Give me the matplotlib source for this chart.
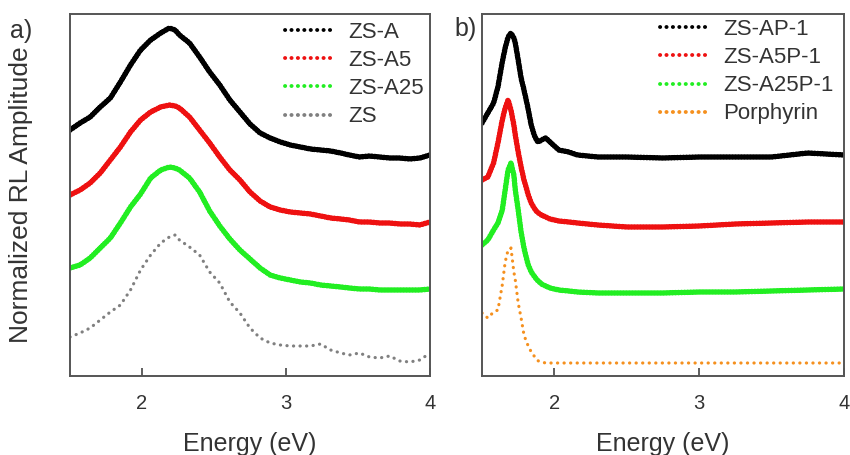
import matplotlib
matplotlib.use("Agg")
import matplotlib.pyplot as plt
from matplotlib.lines import Line2D

plt.rcParams['font.family'] = ['Liberation Sans', 'DejaVu Sans']

TEXT = '#333333'

# ---------------- panel a: radioluminescence of the scintillator films ----------------
energy_a = [1.50, 1.57, 1.64, 1.71, 1.78, 1.85, 1.92, 1.99, 2.06, 2.13, 2.19, 2.23, 2.26,
            2.33, 2.40, 2.47, 2.54, 2.61, 2.68, 2.75, 2.82, 2.89, 2.96, 3.03, 3.10, 3.17,
            3.24, 3.31, 3.38, 3.44, 3.51, 3.58, 3.65, 3.72, 3.79, 3.86, 3.93, 4.00]

zs_a = [2.46, 2.53, 2.59, 2.69, 2.78, 2.94, 3.11, 3.26, 3.36, 3.43, 3.48, 3.46, 3.41,
        3.33, 3.19, 3.04, 2.91, 2.76, 2.64, 2.52, 2.43, 2.38, 2.34, 2.31, 2.29, 2.27,
        2.26, 2.25, 2.23, 2.21, 2.19, 2.20, 2.19, 2.18, 2.18, 2.17, 2.18, 2.21]

zs_a5 = [1.81, 1.86, 1.93, 2.03, 2.16, 2.29, 2.44, 2.56, 2.64, 2.69, 2.71, 2.70, 2.68,
         2.59, 2.46, 2.33, 2.19, 2.06, 1.96, 1.84, 1.75, 1.69, 1.66, 1.64, 1.63, 1.62,
         1.60, 1.58, 1.57, 1.56, 1.54, 1.54, 1.53, 1.53, 1.52, 1.52, 1.51, 1.54]

zs_a25 = [1.08, 1.11, 1.18, 1.28, 1.38, 1.53, 1.69, 1.82, 1.98, 2.06, 2.09, 2.08, 2.06,
          1.98, 1.84, 1.65, 1.50, 1.37, 1.26, 1.17, 1.08, 1.01, 0.98, 0.96, 0.94, 0.93,
          0.91, 0.90, 0.89, 0.88, 0.87, 0.87, 0.86, 0.86, 0.86, 0.86, 0.86, 0.87]

zs = [0.39, 0.43, 0.48, 0.56, 0.64, 0.71, 0.86, 1.06, 1.21, 1.33, 1.39, 1.41, 1.36,
      1.29, 1.21, 1.04, 0.93, 0.74, 0.63, 0.48, 0.38, 0.33, 0.31, 0.30, 0.30, 0.30,
      0.32, 0.26, 0.23, 0.21, 0.23, 0.19, 0.18, 0.20, 0.15, 0.14, 0.16, 0.23]

# ---------------- panel b: films loaded with porphyrin ----------------
energy_b = [1.50, 1.54, 1.58, 1.61, 1.64, 1.66, 1.68, 1.70, 1.72, 1.73, 1.75, 1.77,
            1.79, 1.81, 1.82, 1.84, 1.86, 1.88, 1.89, 1.91, 1.94, 1.97, 2.03, 2.10,
            2.16, 2.30, 2.50, 2.75, 3.00, 3.25, 3.50, 3.75, 4.00]

zs_ap1 = [2.53, 2.63, 2.73, 2.89, 3.14, 3.28, 3.39, 3.43, 3.38, 3.33, 3.16, 2.98,
          2.86, 2.73, 2.66, 2.51, 2.41, 2.35, 2.34, 2.36, 2.38, 2.34, 2.26, 2.24,
          2.21, 2.19, 2.19, 2.18, 2.19, 2.19, 2.19, 2.23, 2.21]

zs_a5p1 = [1.96, 1.99, 2.13, 2.33, 2.56, 2.68, 2.76, 2.66, 2.51, 2.41, 2.24, 2.09,
           1.96, 1.86, 1.81, 1.73, 1.68, 1.64, 1.63, 1.61, 1.59, 1.57, 1.55, 1.54,
           1.53, 1.51, 1.49, 1.49, 1.50, 1.52, 1.53, 1.54, 1.54]

zs_a25p1 = [1.31, 1.36, 1.46, 1.53, 1.66, 1.86, 2.06, 2.13, 2.01, 1.86, 1.66, 1.44,
            1.28, 1.16, 1.11, 1.04, 1.00, 0.96, 0.95, 0.92, 0.90, 0.88, 0.86, 0.85,
            0.84, 0.83, 0.83, 0.83, 0.84, 0.84, 0.85, 0.86, 0.87]

porphyrin = [0.63, 0.58, 0.64, 0.66, 0.91, 1.14, 1.26, 1.28, 1.04, 0.96, 0.73, 0.58,
             0.41, 0.33, 0.30, 0.24, 0.20, 0.16, 0.15, 0.14, 0.13, 0.13, 0.13, 0.13,
             0.13, 0.13, 0.13, 0.13, 0.13, 0.13, 0.13, 0.13, 0.13]

labels_a = ['ZS-A', 'ZS-A5', 'ZS-A25', 'ZS']
labels_b = ['ZS-AP-1', 'ZS-A5P-1', 'ZS-A25P-1', 'Porphyrin']
x_ticks = [2, 3, 4]

BLACK, RED, GREEN, GRAY, ORANGE = '#000000', '#ee1111', '#22ee22', '#808080', '#f5901e'

# dense beaded trace for the measured spectra, sparse dots for the reference curves
dense = dict(lw=4.0, ls=(0, (0.05, 0.5)), dash_capstyle='round')
sparse = dict(lw=2.3, ls=(0, (0.05, 2.0)), dash_capstyle='round')

fig = plt.figure(figsize=(8.5, 4.55), dpi=100)
ax_a = fig.add_axes([70 / 850, 79 / 455, 360 / 850, 362 / 455])
ax_b = fig.add_axes([482 / 850, 79 / 455, 362 / 850, 362 / 455])

ax_a.plot(energy_a, zs_a, color=BLACK, **dense)
ax_a.plot(energy_a, zs_a5, color=RED, **dense)
ax_a.plot(energy_a, zs_a25, color=GREEN, **dense)
ax_a.plot(energy_a, zs, color=GRAY, **sparse)

ax_b.plot(energy_b, zs_ap1, color=BLACK, **dense)
ax_b.plot(energy_b, zs_a5p1, color=RED, **dense)
ax_b.plot(energy_b, zs_a25p1, color=GREEN, **dense)
ax_b.plot(energy_b, porphyrin, color=ORANGE, **sparse)


def legend_handles(colors):
    return [Line2D([], [], color=c, lw=2.8, ls=(0, (0.05, 1.6)), dash_capstyle='round')
            for c in colors]


for ax in (ax_a, ax_b):
    ax.set_xlim(1.5, 4.0)
    ax.set_ylim(0, 3.62)
    ax.set_xticks(x_ticks)
    ax.set_xticklabels([str(t) for t in x_ticks])
    ax.set_yticks([])
    ax.tick_params(axis='x', direction='in', length=6, width=1.2, color='#444444',
                   labelsize=14.5, labelcolor=TEXT, pad=13)
    for sp in ax.spines.values():
        sp.set_color('#555555')
        sp.set_linewidth(1.4)
    ax.set_xlabel('Energy (eV)', fontsize=18, color=TEXT)
    ax.xaxis.set_label_coords(0.5, -0.155)

ax_a.set_ylabel('Normalized RL Amplitude', fontsize=19, color=TEXT)
ax_a.yaxis.set_label_coords(-0.103, 0.5)

leg_kw = dict(loc='upper left', frameon=False, fontsize=16, handlelength=2.2,
              handletextpad=0.65, labelspacing=0.32, borderpad=0, borderaxespad=0,
              labelcolor=TEXT)
ax_a.legend(legend_handles([BLACK, RED, GREEN, GRAY]), labels_a,
            bbox_to_anchor=(0.597, 0.978), **leg_kw)
ax_b.legend(legend_handles([BLACK, RED, GREEN, ORANGE]), labels_b,
            bbox_to_anchor=(0.492, 0.986), **leg_kw)

fig.text(10 / 850, 1 - 31 / 455, 'a)', fontsize=18, color=TEXT, va='center', ha='left')
fig.text(454 / 850, 1 - 29 / 455, 'b)', fontsize=18, color=TEXT, va='center', ha='left')

fig.savefig('out.png', dpi=100)
